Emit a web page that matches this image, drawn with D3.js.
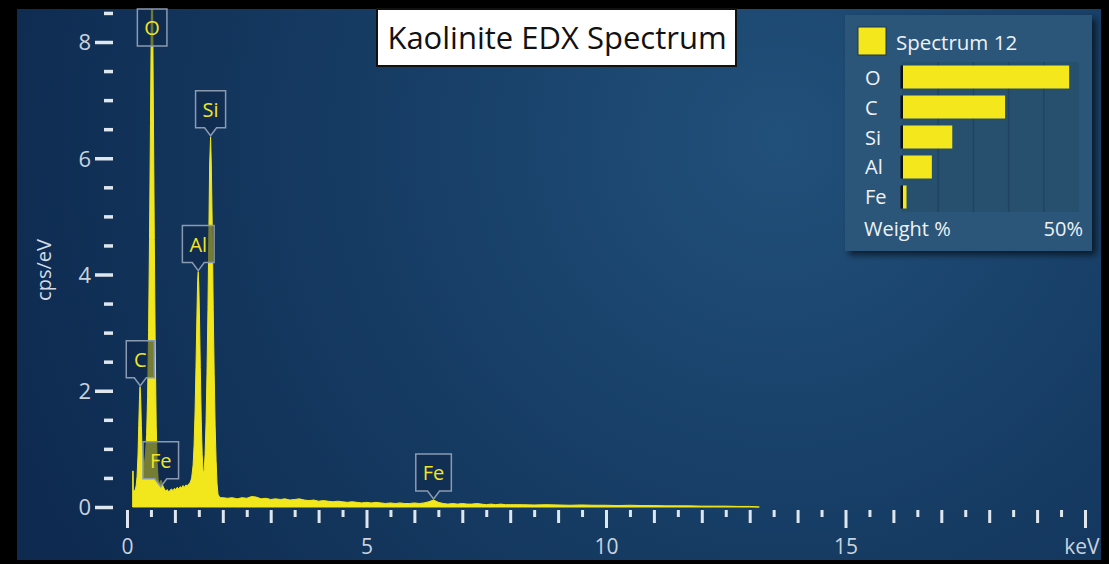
<!DOCTYPE html>
<html>
<head>
<meta charset="utf-8">
<script src="https://cdn.jsdelivr.net/npm/d3@7"></script>
<style>
  html, body { margin: 0; padding: 0; background: #000; }
  svg { display: block; }
  text { font-family: "Open Sans", "Noto Sans", sans-serif; }
</style>
</head>
<body>
<svg id="chart" width="1109" height="564"></svg>
<script>
// Spectrum samples: energy (keV) and intensity (cps/eV)
const specKeV = [
  0.118, 0.12, 0.128, 0.132, 0.15, 0.17, 0.19, 0.21, 0.23, 0.245, 0.26, 0.272, 0.285, 0.30, 0.315, 0.33, 0.35,
  0.37, 0.39, 0.41, 0.43, 0.45, 0.47, 0.49, 0.505, 0.52, 0.535, 0.55, 0.57, 0.59, 0.61, 0.63, 0.65,
  0.67, 0.69, 0.71, 0.73, 0.75, 0.78, 0.81, 0.84, 0.87, 0.90, 0.93, 0.96, 0.99, 1.02, 1.05, 1.08,
  1.11, 1.14, 1.17, 1.20, 1.23, 1.26, 1.29, 1.32, 1.35, 1.38, 1.40, 1.42, 1.44, 1.46, 1.475, 1.487,
  1.50, 1.515, 1.53, 1.55, 1.57, 1.59, 1.61, 1.63, 1.65, 1.67, 1.69, 1.71, 1.725, 1.745, 1.76, 1.78,
  1.80, 1.82, 1.84, 1.86, 1.88, 1.90, 1.93, 1.96,
  2.0, 2.1, 2.2, 2.3, 2.4, 2.5, 2.6, 2.7, 2.8, 2.9, 3.0, 3.1, 3.2, 3.3, 3.4, 3.5, 3.6, 3.7, 3.8, 3.9,
  4.0, 4.1, 4.2, 4.3, 4.4, 4.5, 4.6, 4.7, 4.8, 4.9, 5.0, 5.1, 5.2, 5.3, 5.4, 5.5, 5.6, 5.7, 5.8, 5.9,
  6.0, 6.1, 6.2, 6.3, 6.4, 6.5, 6.6, 6.7, 6.8, 6.9, 7.0, 7.1, 7.2, 7.3, 7.4, 7.5, 7.6, 7.7, 7.8, 7.9,
  8.0, 8.25, 8.5, 8.75, 9.0, 9.25, 9.5, 9.75, 10.0, 10.25, 10.5, 10.75, 11.0, 11.25, 11.5, 11.75,
  12.0, 12.25, 12.5, 12.75, 13.0, 13.2
];
const specCps = [
  0, 0.62, 0.62, 0.26, 0.28, 0.30, 0.36, 0.52, 0.9, 1.4, 1.85, 2.07, 1.9, 1.4, 1.0, 0.85, 0.78,
  0.8, 0.95, 1.25, 1.9, 3.0, 4.6, 6.6, 8.2, 9.2, 8.6, 6.9, 4.6, 2.7, 1.4, 0.75, 0.48,
  0.40, 0.43, 0.46, 0.42, 0.36, 0.31, 0.27, 0.30, 0.26, 0.29, 0.31, 0.28, 0.32, 0.30, 0.34, 0.31,
  0.35, 0.33, 0.37, 0.34, 0.38, 0.36, 0.40, 0.42, 0.50, 0.72, 1.05, 1.6, 2.4, 3.3, 3.9, 4.05,
  3.8, 3.2, 2.4, 1.5, 0.9, 0.6, 0.62, 0.9, 1.45, 2.3, 3.4, 4.8, 5.9, 6.37, 5.9, 4.8,
  3.4, 2.3, 1.4, 0.8, 0.4, 0.22, 0.17, 0.16,
  0.16, 0.15, 0.16, 0.14, 0.16, 0.15, 0.18, 0.17, 0.14, 0.15, 0.13, 0.14, 0.13, 0.14, 0.12, 0.13, 0.14, 0.12, 0.11, 0.12,
  0.10, 0.11, 0.10, 0.09, 0.10, 0.09, 0.08, 0.09, 0.08, 0.07, 0.08, 0.07, 0.08, 0.07, 0.06, 0.07, 0.06, 0.07, 0.06, 0.06,
  0.07, 0.06, 0.07, 0.09, 0.12, 0.08, 0.06, 0.05, 0.06, 0.05, 0.06, 0.05, 0.05, 0.06, 0.05, 0.04, 0.05, 0.04, 0.05, 0.04,
  0.04, 0.04, 0.035, 0.04, 0.035, 0.03, 0.035, 0.03, 0.03, 0.025, 0.03, 0.025, 0.025, 0.02, 0.02, 0.02,
  0.015, 0.015, 0.015, 0.01, 0.01, 0
];

// Peak identification callouts
const peakNames = ["O", "C", "Si", "Al", "Fe", "Fe"];
const peakKeV   = [0.525, 0.277, 1.745, 1.487, 0.705, 6.40];
const peakCps   = [9.2, 2.07, 6.37, 4.05, 0.33, 0.12];

// Quantification (weight %)
const quantElements = ["O", "C", "Si", "Al", "Fe"];
const quantWeight   = [47.2, 29.0, 14.0, 8.2, 1.0];
const quantTicks    = [10, 20, 30, 40];

// Axis ticks
const xTickValues = d3.range(0, 20.001, 0.5);
const yTickValues = d3.range(0, 8.501, 0.5);
const xLabelTicks = [0, 5, 10, 15];
const yLabelTicks = [0, 2, 4, 6, 8];

const svg = d3.select("#chart");
const defs = svg.append("defs");

const grad = defs.append("radialGradient")
  .attr("id", "bg").attr("gradientUnits", "userSpaceOnUse")
  .attr("cx", 780).attr("cy", 140).attr("r", 820);
grad.append("stop").attr("offset", 0).attr("stop-color", "#21507a");
grad.append("stop").attr("offset", 0.45).attr("stop-color", "#173e66");
grad.append("stop").attr("offset", 1).attr("stop-color", "#0e2a50");

defs.append("clipPath").attr("id", "plotClip")
  .append("rect").attr("x", 17).attr("y", 9).attr("width", 1084).attr("height", 499);

const shadow = defs.append("filter").attr("id", "shadow")
  .attr("x", -0.1).attr("y", -0.1).attr("width", 1.3).attr("height", 1.3);
shadow.append("feGaussianBlur").attr("stdDeviation", 3);

// Background panel
svg.append("rect").attr("x", 17).attr("y", 9).attr("width", 1084).attr("height", 551)
  .attr("fill", "url(#bg)");

const x = d3.scaleLinear().domain([0, 20]).range([127, 1085]);
const y = d3.scaleLinear().domain([0, 8]).range([507, 42]);

// Spectrum
const pts = specKeV.map((k, i) => [k, specCps[i]]);
const area = d3.area().x(d => x(d[0])).y0(y(0)).y1(d => y(d[1]));
const plot = svg.append("g").attr("clip-path", "url(#plotClip)");
plot.append("path").datum(pts).attr("d", area)
  .attr("fill", "#f2e71c").attr("stroke", "#f2e71c").attr("stroke-width", 1)
  .attr("stroke-linejoin", "round");

// X axis
const xAxis = svg.append("g").attr("transform", "translate(0,510)")
  .call(d3.axisBottom(x).tickValues(xTickValues).tickSizeOuter(0)
    .tickFormat(d => xLabelTicks.includes(d) ? String(d) : (d === 20 ? "keV" : "")));
xAxis.select(".domain").remove();
xAxis.selectAll(".tick line")
  .attr("stroke", "#dfe6ee").attr("stroke-width", 3)
  .attr("y2", d => (d % 5 === 0) ? 18 : (d % 1 === 0 ? 13 : 7));
xAxis.selectAll(".tick text")
  .attr("y", 44).attr("dy", 0)
  .attr("fill", "#c9d3de").attr("font-size", 21)
  .attr("font-family", "'Open Sans', sans-serif")
  .attr("text-anchor", d => d === 20 ? "end" : "middle")
  .attr("x", d => d === 20 ? 14 : 0);

// Y axis
const yAxis = svg.append("g").attr("transform", "translate(113,0)")
  .call(d3.axisLeft(y).tickValues(yTickValues).tickSizeOuter(0)
    .tickFormat(d => yLabelTicks.includes(d) ? String(d) : ""));
yAxis.select(".domain").remove();
yAxis.selectAll(".tick line")
  .attr("stroke", "#dfe6ee").attr("stroke-width", 3.5)
  .attr("x2", d => yLabelTicks.includes(d) ? -18 : -9);
yAxis.selectAll(".tick text")
  .attr("x", -22).attr("dy", "0.36em")
  .attr("fill", "#c9d3de").attr("font-size", 22)
  .attr("font-family", "'Open Sans', sans-serif");

svg.append("text")
  .attr("transform", "translate(43,270) rotate(-90)")
  .attr("text-anchor", "middle").attr("dominant-baseline", "central")
  .attr("fill", "#d3dce6").attr("font-size", 20)
  .text("cps/eV");

// Peak callouts
const boxH = 37, notchH = 8, notchW = 6, plotTop = 9;
peakNames.forEach((name, i) => {
  const px = x(peakKeV[i]);
  const tip = y(peakCps[i]) - 1;
  const g = svg.append("g");
  const t = g.append("text").attr("font-size", 20).attr("fill", "#f0e526")
    .attr("text-anchor", "middle").attr("dominant-baseline", "central").text(name);
  const tw = t.node().getComputedTextLength();
  const bw = Math.max(28, tw + 14);
  let bottom = tip - notchH;
  let top = bottom - boxH;
  let notch = true;
  if (top < plotTop) { top = plotTop; bottom = top + boxH; notch = false; }
  const l = px - bw / 2, r = px + bw / 2;
  const d = notch
    ? `M${l},${top}H${r}V${bottom}H${px + notchW}L${px},${tip}L${px - notchW},${bottom}H${l}Z`
    : `M${l},${top}H${r}V${bottom}H${l}Z`;
  g.insert("path", "text").attr("d", d)
    .attr("fill", "rgba(14,38,72,0.55)").attr("stroke", "#8a9bb1").attr("stroke-width", 1.5);
  t.attr("x", px).attr("y", (top + bottom) / 2);
});

// Title
svg.append("rect").attr("x", 377).attr("y", 9).attr("width", 359).attr("height", 57)
  .attr("fill", "#fff").attr("stroke", "#111").attr("stroke-width", 2);
svg.append("text").attr("x", 557).attr("y", 37)
  .attr("text-anchor", "middle").attr("dominant-baseline", "central")
  .attr("font-size", 31).attr("fill", "#111").text("Kaolinite EDX Spectrum");

// Quantification legend panel
const lg = svg.append("g");
lg.append("rect").attr("x", 849).attr("y", 19).attr("width", 247).attr("height", 236)
  .attr("fill", "rgba(0,0,0,0.6)").attr("filter", "url(#shadow)");
lg.append("rect").attr("x", 845).attr("y", 15).attr("width", 247).attr("height", 236)
  .attr("fill", "#2b5679");
lg.append("rect").attr("x", 858).attr("y", 27).attr("width", 28).attr("height", 28)
  .attr("fill", "#f4e71c").attr("stroke", "#1c3550").attr("stroke-width", 1);
lg.append("text").attr("x", 896).attr("y", 42).attr("dominant-baseline", "central")
  .attr("font-size", 20.5).attr("fill", "#eef2f6").text("Spectrum 12");

const xb = d3.scaleLinear().domain([0, 50]).range([903, 1079]);
const yb = d3.scaleBand().domain(quantElements).range([62, 212])
  .paddingInner(0.233).paddingOuter(0.117);

lg.append("rect").attr("x", xb(0) - 1).attr("y", 62).attr("width", xb(50) - xb(0) + 1).attr("height", 150)
  .attr("fill", "#27506f");
lg.selectAll(".grid").data(quantTicks).join("line")
  .attr("x1", d => xb(d)).attr("x2", d => xb(d)).attr("y1", 62).attr("y2", 212)
  .attr("stroke", "#20445f").attr("stroke-width", 1.5);
lg.selectAll(".edge").data(quantElements).join("rect")
  .attr("x", xb(0) - 2.5).attr("y", d => yb(d)).attr("width", 2.5).attr("height", yb.bandwidth())
  .attr("fill", "#111");
lg.selectAll(".bar").data(quantElements).join("rect")
  .attr("x", xb(0)).attr("y", d => yb(d))
  .attr("width", (d, i) => xb(quantWeight[i]) - xb(0)).attr("height", yb.bandwidth())
  .attr("fill", "#f4e71c");
lg.selectAll(".lab").data(quantElements).join("text")
  .attr("x", 865).attr("y", d => yb(d) + yb.bandwidth() / 2)
  .attr("dominant-baseline", "central").attr("font-size", 20).attr("fill", "#eef2f6")
  .text(d => d);
lg.append("text").attr("x", 864).attr("y", 228).attr("dominant-baseline", "central")
  .attr("font-size", 20).attr("fill", "#eef2f6").text("Weight %");
lg.append("text").attr("x", 1083).attr("y", 228).attr("dominant-baseline", "central")
  .attr("text-anchor", "end").attr("font-size", 20).attr("fill", "#eef2f6").text("50%");
</script>
</body>
</html>
